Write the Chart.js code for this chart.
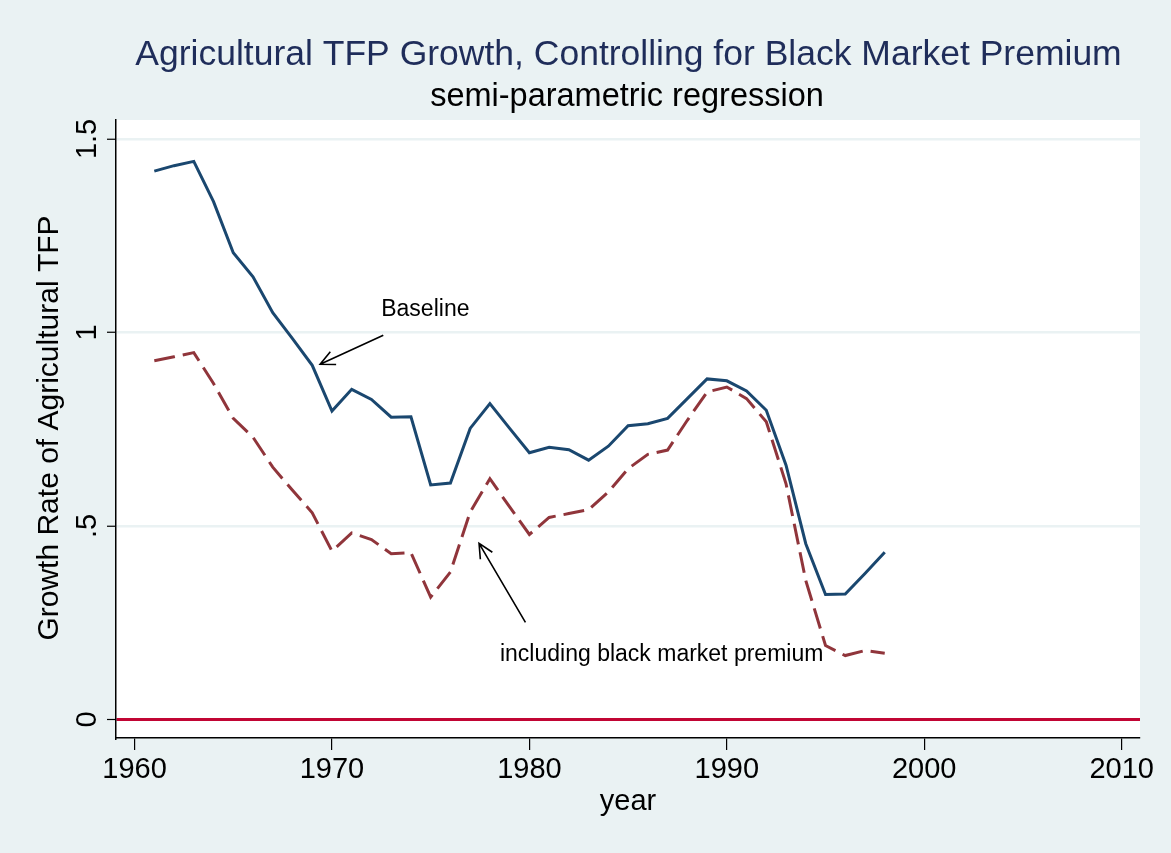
<!DOCTYPE html>
<html>
<head>
<meta charset="utf-8">
<script src="https://cdn.jsdelivr.net/npm/chart.js@4"></script>
<style>
  html, body { margin: 0; padding: 0; background: #eaf2f3; }
  #wrap { width: 1171px; height: 853px; }
</style>
</head>
<body>
<div id="wrap"><canvas id="tfp" width="1171" height="853"></canvas></div>
<script>
const years = [1961,1962,1963,1964,1965,1966,1967,1968,1969,1970,1971,1972,1973,1974,1975,1976,1977,1978,1979,
               1980,1981,1982,1983,1984,1985,1986,1987,1988,1989,1990,1991,1992,1993,1994,1995,1996,1997,1998];
const baseline = [1.417,1.431,1.442,1.338,1.206,1.144,1.051,0.984,0.915,0.797,0.853,0.827,0.781,0.782,0.606,0.611,0.752,0.816,0.752,
                  0.689,0.703,0.697,0.670,0.706,0.759,0.764,0.778,0.829,0.880,0.875,0.849,0.799,0.657,0.454,0.323,0.324,0.377,0.432];
const withBMP = [0.927,0.937,0.948,0.868,0.778,0.729,0.652,0.592,0.534,0.435,0.482,0.465,0.428,0.431,0.316,0.381,0.536,0.622,0.549,
                 0.478,0.522,0.532,0.542,0.588,0.648,0.685,0.696,0.773,0.846,0.859,0.829,0.769,0.609,0.359,0.191,0.165,0.178,0.171];
const xTicks = [1960, 1970, 1980, 1990, 2000, 2010];
const yTicks = [0, 0.5, 1, 1.5];
const yTickLabels = ["0", ".5", "1", "1.5"];

const FONT = "'Liberation Sans', Arial, Helvetica, sans-serif";

// text and arrows drawn on top, positioned through the scales
const notes = {
  id: "notes",
  beforeDraw(chart) {
    const { ctx, chartArea: a } = chart;
    ctx.save();
    ctx.fillStyle = "#ffffff";
    ctx.fillRect(a.left, a.top, a.right - a.left, a.bottom - a.top);
    ctx.restore();
  },
  afterDraw(chart) {
    const { ctx, scales: { x, y } } = chart;
    ctx.save();
    ctx.textAlign = "center";
    ctx.textBaseline = "alphabetic";
    ctx.fillStyle = "#1f2d5a";
    ctx.font = "35.5px " + FONT;
    ctx.fillText("Agricultural TFP Growth, Controlling for Black Market Premium", 628.5, 64.5);
    ctx.fillStyle = "#000";
    ctx.font = "32.5px " + FONT;
    ctx.fillText("semi-parametric regression", 627, 106);

    // y title and tick labels (rotated)
    ctx.textBaseline = "middle";
    ctx.save();
    ctx.translate(50, 428);
    ctx.rotate(-Math.PI / 2);
    ctx.font = "30px " + FONT;
    ctx.fillText("Growth Rate of Agricultural TFP", 0, 0);
    ctx.restore();
    ctx.font = "29px " + FONT;
    yTicks.forEach((v, i) => {
      ctx.save();
      ctx.translate(88, y.getPixelForValue(v));
      ctx.rotate(-Math.PI / 2);
      ctx.fillText(yTickLabels[i], 0, 0);
      ctx.restore();
    });

    ctx.textBaseline = "alphabetic";
    ctx.font = "29px " + FONT;
    ctx.fillText("year", 628, 810);

    // annotations
    ctx.font = "23px " + FONT;
    ctx.fillText("Baseline", x.getPixelForValue(1974.73), y.getPixelForValue(1.043));
    ctx.fillText("including black market premium", x.getPixelForValue(1986.7), y.getPixelForValue(0.151));
    arrow(ctx, x.getPixelForValue(1972.6), y.getPixelForValue(0.993), x.getPixelForValue(1969.4), y.getPixelForValue(0.918));
    arrow(ctx, x.getPixelForValue(1979.8), y.getPixelForValue(0.251), x.getPixelForValue(1977.45), y.getPixelForValue(0.455));
    ctx.restore();
  }
};

function arrow(ctx, x0, y0, x1, y1) {
  const ang = Math.atan2(y1 - y0, x1 - x0), len = 16, spread = 0.45;
  ctx.strokeStyle = "#000";
  ctx.lineWidth = 1.6;
  ctx.beginPath();
  ctx.moveTo(x0, y0); ctx.lineTo(x1, y1);
  ctx.moveTo(x1 - len * Math.cos(ang - spread), y1 - len * Math.sin(ang - spread));
  ctx.lineTo(x1, y1);
  ctx.lineTo(x1 - len * Math.cos(ang + spread), y1 - len * Math.sin(ang + spread));
  ctx.stroke();
}

new Chart(document.getElementById("tfp"), {
  type: "line",
  data: {
    datasets: [
      {
        label: "Baseline",
        data: years.map((yr, i) => ({ x: yr, y: baseline[i] })),
        borderColor: "#1a476f",
        borderWidth: 3,
        pointRadius: 0,
        tension: 0
      },
      {
        label: "including black market premium",
        data: years.map((yr, i) => ({ x: yr, y: withBMP[i] })),
        borderColor: "#90353b",
        borderWidth: 3,
        borderDash: [21, 8],
        pointRadius: 0,
        tension: 0
      }
    ]
  },
  options: {
    responsive: false,
    animation: false,
    layout: { padding: { top: 120, right: 31, left: 0, bottom: 0 } },
    plugins: { legend: { display: false }, tooltip: { enabled: false }, title: { display: false } },
    scales: {
      x: {
        type: "linear",
        min: 1959.06,
        max: 2010.93,
        afterBuildTicks: s => { s.ticks = xTicks.map(v => ({ value: v })); },
        afterFit: s => { s.height = 115; },
        border: { display: true, color: "#000", width: 1.5 },
        grid: { drawOnChartArea: false, drawTicks: true, tickLength: 12, color: "#000", lineWidth: 1.2 },
        ticks: {
          color: "#000",
          font: { family: FONT, size: 29 },
          padding: 3,
          maxRotation: 0,
          callback: v => String(v)
        }
      },
      y: {
        type: "linear",
        min: -0.048,
        max: 1.549,
        afterBuildTicks: s => { s.ticks = yTicks.map(v => ({ value: v })); },
        afterFit: s => { s.width = 116; },
        border: { display: true, color: "#000", width: 1.5 },
        grid: {
          drawTicks: true,
          tickLength: 9,
          color: ctx => ctx.type === "tick" && ctx.tick && ctx.tick.value === 0 ? "#c10534" : "#eaf2f3",
          lineWidth: ctx => ctx.tick && ctx.tick.value === 0 ? 3 : 2.5,
          tickColor: "#000",
          tickWidth: 1.2
        },
        ticks: { display: false }
      }
    }
  },
  plugins: [notes]
});
</script>
</body>
</html>
